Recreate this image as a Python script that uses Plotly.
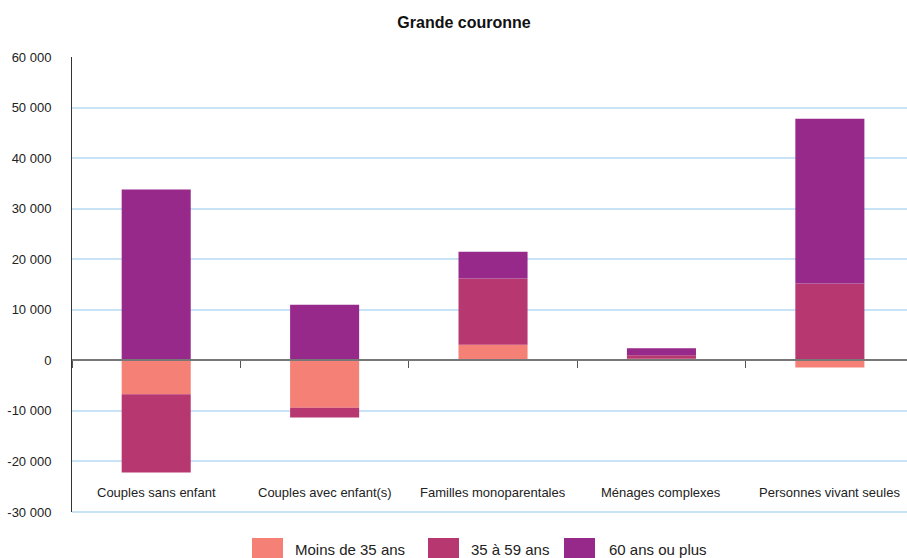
import plotly.graph_objects as go

categories = ["Couples sans enfant", "Couples avec enfant(s)", "Familles monoparentales",
              "Ménages complexes", "Personnes vivant seules"]
series_names = ["Moins de 35 ans", "35 à 59 ans", "60 ans ou plus"]
moins35 = [-6700, -9400, 3100, 300, -1400]
a35_59 = [-15500, -1900, 13100, 700, 15200]
plus60 = [33800, 11000, 5300, 1400, 32600]
colors = ["#F48076", "#B73870", "#97298B"]
tick_vals = [-30000, -20000, -10000, 0, 10000, 20000, 30000, 40000, 50000, 60000]
tick_text = ["-30 000", "-20 000", "-10 000", "0", "10 000", "20 000", "30 000",
             "40 000", "50 000", "60 000"]
title = "Grande couronne"

FONT = "Liberation Sans, Arial, sans-serif"

fig = go.Figure()
for name, vals, col in zip(series_names, [moins35, a35_59, plus60], colors):
    fig.add_trace(go.Bar(x=categories, y=vals, name=name, marker_color=col,
                         marker_line_width=0, showlegend=False))

# category labels inside the plot area, near the bottom
for c in categories:
    fig.add_annotation(x=c, y=-26100, xref="x", yref="y", text=c, showarrow=False,
                       font=dict(family=FONT, size=13, color="#222"))

# bottom gridline at the range edge (paper coords, not clipped)
fig.add_shape(type="line", xref="paper", yref="paper", x0=0, x1=1,
              y0=0, y1=0, line=dict(color="#C8E3F5", width=2),
              layer="below")

# custom legend with big swatches
leg_x = [252, 428, 564]
leg_tx = [293, 469, 607]
W, H = 907, 558
for name, col, sx, tx in zip(series_names, colors, leg_x, leg_tx):
    fig.add_shape(type="rect", xref="paper", yref="paper",
                  x0=(sx - 72) / 835, x1=(sx + 31 - 72) / 835,
                  y0=(512 - 558) / 455, y1=(512 - 538) / 455,
                  fillcolor=col, line_width=0, layer="above")
    fig.add_annotation(x=(tx - 72) / 835, y=(512 - 549) / 455, xref="paper", yref="paper",
                       text=name, showarrow=False, xanchor="left", yanchor="middle",
                       font=dict(family=FONT, size=15, color="#222"))

fig.update_layout(
    width=W, height=H,
    margin=dict(l=72, r=0, t=57, b=46),
    barmode="relative",
    bargap=0.59,
    plot_bgcolor="white", paper_bgcolor="white",
    title=dict(text="<b>" + title + "</b>", x=464 / W, xanchor="center",
               y=1 - 22 / H, yanchor="middle",
               font=dict(family=FONT, size=16, color="#111")),
    font=dict(family=FONT, size=13, color="#222"),
    showlegend=False,
    xaxis=dict(
        range=[-0.5, 4.458],
        anchor="free", position=30000 / 90000,
        showticklabels=False, ticks="outside", tickson="boundaries",
        ticklen=7, tickcolor="#555", tickwidth=1,
        showline=True, linecolor="#777", linewidth=2,
        showgrid=False, zeroline=False,
    ),
    yaxis=dict(
        range=[-30000, 60000], tickvals=tick_vals, ticktext=tick_text,
        showgrid=True, gridcolor="#C8E3F5", gridwidth=1.5,
        zeroline=False, showline=True, linecolor="#333", linewidth=1,
        ticks="", ticklabelstandoff=17,
        tickfont=dict(family=FONT, size=13, color="#222"),
    ),
)

fig.write_html("out.html")
